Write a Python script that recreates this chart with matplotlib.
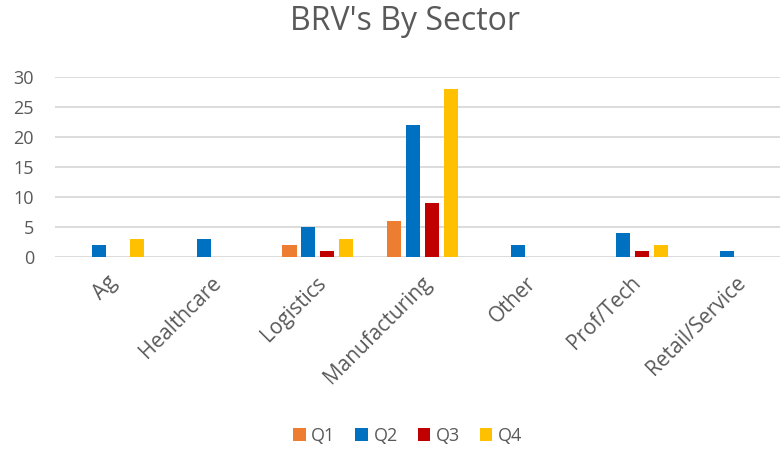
import matplotlib.pyplot as plt
import matplotlib.transforms as mtransforms
import numpy as np

plt.rcParams['font.family'] = ['Open Sans', 'DejaVu Sans']

# 데이터
sectors = ['Ag', 'Healthcare', 'Logistics', 'Manufacturing', 'Other', 'Prof/Tech', 'Retail/Service']
quarters = ['Q1', 'Q2', 'Q3', 'Q4']
q1 = [0, 0, 2, 6, 0, 0, 0]
q2 = [2, 3, 5, 22, 2, 4, 1]
q3 = [0, 0, 1, 9, 0, 1, 0]
q4 = [3, 0, 3, 28, 0, 2, 0]
colors = ['#ED7D31', '#0070C0', '#C00000', '#FFC000']

txt = '#595959'
fig = plt.figure(figsize=(7.84, 4.5), dpi=100)
ax = fig.add_axes([0.070, 0.429, 0.925, 0.400])

x = np.arange(len(sectors))
step = 0.181
for i, (vals, c, q) in enumerate(zip([q1, q2, q3, q4], colors, quarters)):
    ax.bar(x + (i - 1.5) * step, vals, width=0.134, color=c, label=q, zorder=3)

ax.set_xlim(-0.512, 6.413)
ax.set_ylim(0, 30)
ax.set_yticks(range(0, 31, 5))
ax.grid(axis='y', color='#d9d9d9', linewidth=1.3, zorder=0)
for s in ax.spines.values():
    s.set_visible(False)
ax.tick_params(length=0, colors=txt, labelsize=13)
ax.tick_params(axis='y', pad=15)
ax.tick_params(axis='x', pad=11, labelsize=15)
ax.set_xticks(x)
ax.set_xticklabels(sectors, rotation=45, ha='right', rotation_mode='anchor')
shift = mtransforms.ScaledTranslation(-0.02, 0, fig.dpi_scale_trans)
for lab in ax.get_xticklabels():
    lab.set_transform(lab.get_transform() + shift)

fig.suptitle("BRV's By Sector", x=0.516, y=0.99, fontsize=23, color=txt)
fig.legend(loc='lower center', bbox_to_anchor=(0.52, -0.025), ncol=4, frameon=False,
           fontsize=13, labelcolor=txt, handlelength=0.7, handleheight=0.7,
           handletextpad=0.3, columnspacing=1.1)

fig.savefig('out.png', dpi=100)
